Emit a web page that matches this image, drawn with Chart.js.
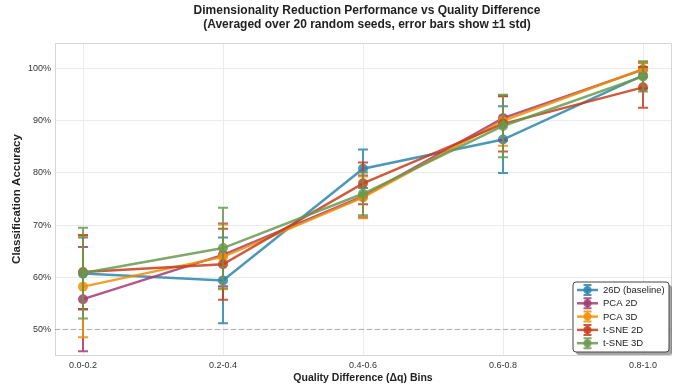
<!DOCTYPE html>
<html>
<head>
<meta charset="utf-8">
<script src="https://cdn.jsdelivr.net/npm/chart.js@4/dist/chart.umd.min.js"></script>
<style>
  html, body { margin: 0; padding: 0; background: #fff; }
  #wrap { width: 678px; height: 385px; }
</style>
</head>
<body>
<div id="wrap"><canvas id="chart" width="678" height="385"></canvas></div>
<script>
// values (accuracy in %)
const categories = ['0.0-0.2', '0.2-0.4', '0.4-0.6', '0.6-0.8', '0.8-1.0'];
const seriesNames = ['26D (baseline)', 'PCA 2D', 'PCA 3D', 't-SNE 2D', 't-SNE 3D'];

const baselineMean = [60.7, 59.4, 80.8, 86.4, 98.7];
const baselineStd = [6.9, 8.2, 3.7, 6.4, 2.5];
const pca2dMean = [55.8, 64.3, 75.5, 90.5, 99.8];
const pca2dStd = [10.0, 6.0, 4.0, 4.3, 1.3];
const pca3dMean = [58.2, 63.9, 75.3, 90.0, 99.9];
const pca3dStd = [9.7, 6.2, 4.0, 4.8, 1.2];
const tsne2dMean = [61.0, 62.5, 78.0, 89.4, 96.4];
const tsne2dStd = [7.1, 6.8, 4.0, 5.3, 3.9];
const tsne3dMean = [60.8, 65.6, 76.0, 89.0, 98.5];
const tsne3dStd = [8.7, 7.7, 4.1, 6.0, 2.9];

const yTicks = [50, 60, 70, 80, 90, 100];
const chanceLevel = 50;

const colors = ['#2E86AB', '#A23B72', '#F18F01', '#C73E1D', '#6A994E'];
const means = [baselineMean, pca2dMean, pca3dMean, tsne2dMean, tsne3dMean];
const stds = [baselineStd, pca2dStd, pca3dStd, tsne2dStd, tsne3dStd];

const FONT = "'Liberation Sans', Arial, sans-serif";

function withAlpha(hex, a) {
  const n = parseInt(hex.slice(1), 16);
  return `rgba(${(n >> 16) & 255}, ${(n >> 8) & 255}, ${n & 255}, ${a})`;
}

const datasets = seriesNames.map((name, k) => ({
  label: name,
  data: means[k].map((v, i) => ({ x: i, y: v })),
  borderColor: withAlpha(colors[k], 0.85),
  backgroundColor: withAlpha(colors[k], 0.85),
  borderWidth: 2.5,
  pointRadius: 5,
  pointHoverRadius: 5,
  pointBorderWidth: 0,
  tension: 0,
  order: seriesNames.length - k, // later series drawn on top
  stds: stds[k]
}));

// error bars, drawn just under each series' own line
const errorBars = {
  id: 'errorBars',
  beforeDatasetDraw(chart, args) {
    const ds = chart.data.datasets[args.index];
    const xs = chart.scales.x, ys = chart.scales.y;
    const ctx = chart.ctx;
    ctx.save();
    ctx.strokeStyle = withAlpha(colors[args.index], 0.85);
    ctx.lineWidth = 2;
    ds.data.forEach((p, i) => {
      const x = xs.getPixelForValue(p.x);
      const top = ys.getPixelForValue(p.y + ds.stds[i]);
      const bot = ys.getPixelForValue(p.y - ds.stds[i]);
      ctx.beginPath();
      ctx.moveTo(x, top); ctx.lineTo(x, bot);
      ctx.moveTo(x - 5, top); ctx.lineTo(x + 5, top);
      ctx.moveTo(x - 5, bot); ctx.lineTo(x + 5, bot);
      ctx.stroke();
    });
    ctx.restore();
  }
};

// dashed chance line and the top/right frame
const chanceLine = {
  id: 'chanceLine',
  beforeDatasetsDraw(chart) {
    const { ctx, chartArea } = chart;
    const y = chart.scales.y.getPixelForValue(chanceLevel);
    ctx.save();
    ctx.strokeStyle = '#d6d6d6';
    ctx.lineWidth = 1;
    ctx.beginPath();
    ctx.moveTo(chartArea.left, chartArea.top + 0.5);
    ctx.lineTo(chartArea.right + 0.5, chartArea.top + 0.5);
    ctx.lineTo(chartArea.right + 0.5, chartArea.bottom);
    ctx.stroke();
    ctx.strokeStyle = 'rgba(128,128,128,0.6)';
    ctx.setLineDash([5, 3]);
    ctx.beginPath();
    ctx.moveTo(chartArea.left, y);
    ctx.lineTo(chartArea.right, y);
    ctx.stroke();
    ctx.restore();
  }
};

// two-line title and the framed legend in the lower right
const decorations = {
  id: 'decorations',
  afterDraw(chart) {
    const { ctx, chartArea } = chart;
    ctx.save();
    ctx.fillStyle = '#222';
    ctx.font = `bold 12px ${FONT}`;
    ctx.textAlign = 'center';
    ctx.textBaseline = 'middle';
    const cx = (chartArea.left + chartArea.right) / 2 + 4;
    ctx.fillText('Dimensionality Reduction Performance vs Quality Difference', cx, 11);
    ctx.fillText('(Averaged over 20 random seeds, error bars show \u00b11 std)', cx, 25);

    // legend box
    const bx = chartArea.right - 98, by = chartArea.bottom - 73, bw = 96, bh = 70;
    ctx.fillStyle = 'rgba(0,0,0,0.35)';
    roundRect(ctx, bx + 3, by + 3, bw, bh, 3); ctx.fill();
    ctx.fillStyle = '#fff';
    roundRect(ctx, bx, by, bw, bh, 3); ctx.fill();
    ctx.strokeStyle = '#444';
    ctx.lineWidth = 1;
    roundRect(ctx, bx, by, bw, bh, 3); ctx.stroke();

    ctx.font = `9.5px ${FONT}`;
    ctx.textAlign = 'left';
    seriesNames.forEach((name, k) => {
      const y = by + 8 + k * 13.3;
      const x0 = bx + 4, x1 = bx + 25, xm = (x0 + x1) / 2;
      ctx.strokeStyle = withAlpha(colors[k], 0.85);
      ctx.fillStyle = withAlpha(colors[k], 0.85);
      ctx.lineWidth = 2.5;
      ctx.beginPath(); ctx.moveTo(x0, y); ctx.lineTo(x1, y); ctx.stroke();
      ctx.lineWidth = 2;
      ctx.beginPath();
      ctx.moveTo(xm, y - 5); ctx.lineTo(xm, y + 5);
      ctx.moveTo(xm - 4, y - 5); ctx.lineTo(xm + 4, y - 5);
      ctx.moveTo(xm - 4, y + 5); ctx.lineTo(xm + 4, y + 5);
      ctx.stroke();
      ctx.beginPath(); ctx.arc(xm, y, 4, 0, Math.PI * 2); ctx.fill();
      ctx.fillStyle = '#222';
      ctx.fillText(name, bx + 30, y + 0.5);
    });
    ctx.restore();
  }
};

function roundRect(ctx, x, y, w, h, r) {
  ctx.beginPath();
  ctx.moveTo(x + r, y);
  ctx.arcTo(x + w, y, x + w, y + h, r);
  ctx.arcTo(x + w, y + h, x, y + h, r);
  ctx.arcTo(x, y + h, x, y, r);
  ctx.arcTo(x, y, x + w, y, r);
  ctx.closePath();
}

new Chart(document.getElementById('chart'), {
  type: 'line',
  data: { datasets },
  plugins: [chanceLine, errorBars, decorations],
  options: {
    responsive: false,
    animation: false,
    events: [],
    layout: { padding: { top: 43, right: 7, bottom: 0, left: 0 } },
    plugins: {
      legend: { display: false },
      title: { display: false },
      tooltip: { enabled: false }
    },
    scales: {
      x: {
        type: 'linear',
        min: -0.2,
        max: 4.2,
        afterFit(scale) { scale.height = 30; },
        afterBuildTicks(scale) { scale.ticks = categories.map((c, i) => ({ value: i })); },
        ticks: {
          callback: (v) => categories[v],
          color: '#333',
          padding: 5,
          maxRotation: 0,
          font: { family: FONT, size: 9 }
        },
        grid: { color: '#ebebeb', drawTicks: false },
        border: { color: '#d6d6d6' },
        title: {
          display: true,
          text: 'Quality Difference (\u0394q) Bins',
          color: '#222',
          font: { family: FONT, size: 10.5, weight: 'bold' },
          padding: { top: 0, bottom: 1 }
        }
      },
      y: {
        min: 45.1,
        max: 104.9,
        afterFit(scale) { scale.width = 55; },
        afterBuildTicks(scale) { scale.ticks = yTicks.map(v => ({ value: v })); },
        ticks: {
          callback: (v) => v + '%',
          color: '#333',
          padding: 4,
          font: { family: FONT, size: 9 }
        },
        grid: { color: '#ebebeb', drawTicks: false },
        border: { color: '#d6d6d6' },
        title: {
          display: true,
          text: 'Classification Accuracy',
          color: '#222',
          font: { family: FONT, size: 11.5, weight: 'bold' },
          padding: { top: 10, bottom: 0 }
        }
      }
    }
  }
});
</script>
</body>
</html>
